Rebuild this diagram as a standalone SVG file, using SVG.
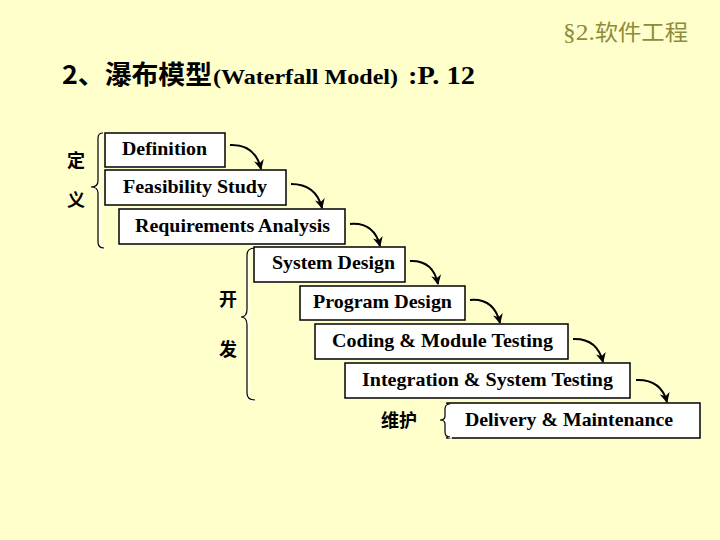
<svg xmlns="http://www.w3.org/2000/svg" width="720" height="540" viewBox="0 0 720 540">
<defs>
<style>
.box{fill:#fff;stroke:#000;stroke-width:1.5}
.lbl{font-family:"Times New Roman","Liberation Serif","DejaVu Serif",serif;font-weight:bold;font-size:19px;fill:#000}
.cn{font-family:"Noto Sans CJK SC",sans-serif;font-weight:bold;font-size:18px;fill:#000;text-anchor:middle}
.ttl{font-family:"Times New Roman","Liberation Serif","DejaVu Serif",serif;font-weight:bold;fill:#000}
.ttlc{font-family:"Noto Sans CJK SC",sans-serif;font-weight:bold;fill:#000}
.hdr{font-family:"Times New Roman","Liberation Serif","DejaVu Serif",serif;font-size:24px;fill:#8E8B3A}
.hdrc{font-family:"Noto Sans CJK SC",sans-serif;font-size:22px;fill:#8E8B3A}
.br{fill:none;stroke:#000;stroke-width:1.2}
.brw{fill:none;stroke:#fff;stroke-width:1.5}
.arr{fill:none;stroke:#000;stroke-width:2;marker-end:url(#ah)}
</style>
<marker id="ah" viewBox="0 0 10 10" refX="9" refY="5" markerWidth="5" markerHeight="5" orient="auto" markerUnits="strokeWidth">
<path d="M0,0 L10,5 L0,10 L3,5 Z" fill="#000"/>
</marker>
</defs>
<rect width="720" height="540" fill="#FFFFCC"/>
<text x="563" y="40" textLength="125" lengthAdjust="spacingAndGlyphs"><tspan class="hdr">§2.</tspan><tspan class="hdrc">软件工程</tspan></text>
<text class="ttlc" x="62" y="84" font-size="26" textLength="150" lengthAdjust="spacingAndGlyphs">2、瀑布模型</text>
<text class="ttl" x="213" y="84" font-size="21" textLength="185" lengthAdjust="spacingAndGlyphs">(Waterfall Model)</text>
<text class="ttl" x="408" y="84" font-size="26" textLength="67" lengthAdjust="spacingAndGlyphs">:P. 12</text>

<g id="brace-def">
<path class="brw" d="M105,134 Q100,134 100,139 L100,182 Q100,188 94,188 Q100,188 100,194 L100,243 Q100,249 106,249"/>
<path class="br" d="M103,133 Q98,133 98,138 L98,181 Q98,187 91,187 Q98,187 98,193 L98,242 Q98,248 104,248"/>
<text class="cn" x="76" y="167">定</text>
<text class="cn" x="76" y="206">义</text>
</g>
<g id="brace-dev">
<path class="brw" d="M257,249 Q249,249 249,256 L249,310 Q249,318 243,318 Q249,318 249,326 L249,394 Q249,401 257,401"/>
<path class="br" d="M255,248 Q247,248 247,255 L247,309 Q247,317 241,317 Q247,317 247,325 L247,393 Q247,400 255,400"/>
<text class="cn" x="228" y="306">开</text>
<text class="cn" x="228" y="356">发</text>
</g>
<g id="brace-mnt">
<text class="cn" x="399" y="427">维护</text>
</g>

<g id="n-definition"><rect class="box" x="105" y="133" width="120" height="34"/><text class="lbl" x="122" y="155" textLength="85" lengthAdjust="spacingAndGlyphs">Definition</text></g>
<g id="n-feasibility"><rect class="box" x="105" y="170" width="181" height="35"/><text class="lbl" x="123" y="193" textLength="144" lengthAdjust="spacingAndGlyphs">Feasibility Study</text></g>
<g id="n-requirements"><rect class="box" x="119" y="209" width="226" height="35"/><text class="lbl" x="135" y="232" textLength="195" lengthAdjust="spacingAndGlyphs">Requirements Analysis</text></g>
<g id="n-system"><rect class="box" x="254" y="247" width="151" height="35"/><text class="lbl" x="272" y="269" textLength="123" lengthAdjust="spacingAndGlyphs">System Design</text></g>
<g id="n-program"><rect class="box" x="300" y="286" width="165" height="34"/><text class="lbl" x="313" y="308" textLength="139" lengthAdjust="spacingAndGlyphs">Program Design</text></g>
<g id="n-coding"><rect class="box" x="315" y="324" width="253" height="35"/><text class="lbl" x="332" y="347" textLength="221" lengthAdjust="spacingAndGlyphs">Coding &amp; Module Testing</text></g>
<g id="n-integration"><rect class="box" x="345" y="363" width="285" height="35"/><text class="lbl" x="362" y="386" textLength="251" lengthAdjust="spacingAndGlyphs">Integration &amp; System Testing</text></g>
<g id="n-delivery"><rect class="box" x="447" y="403" width="253" height="35"/><line x1="447" y1="404" x2="447" y2="437" stroke="#fff" stroke-width="2"/>
<path class="brw" d="M452,405 Q447,405 447,410 L447,417 Q447,421 443,421 Q447,421 447,425 L447,433 Q447,438 452,438"/>
<path class="br" d="M450,404 Q445,404 445,409 L445,416 Q445,420 440,420 Q445,420 445,424 L445,432 Q445,437 450,437"/>
<text class="lbl" x="465" y="426" textLength="208" lengthAdjust="spacingAndGlyphs">Delivery &amp; Maintenance</text></g>

<g id="connectors">
<path class="arr" d="M230,145 Q255,144 261,169"/>
<path class="arr" d="M291,184 Q316,184 322,208"/>
<path class="arr" d="M350,224 Q374,222 380,246"/>
<path class="arr" d="M410,261 Q433,260 438,284"/>
<path class="arr" d="M470,300 Q494,298 500,323"/>
<path class="arr" d="M573,339 Q597,338 603,362"/>
<path class="arr" d="M636,380 Q661,379 667,402"/>
</g>
</svg>
